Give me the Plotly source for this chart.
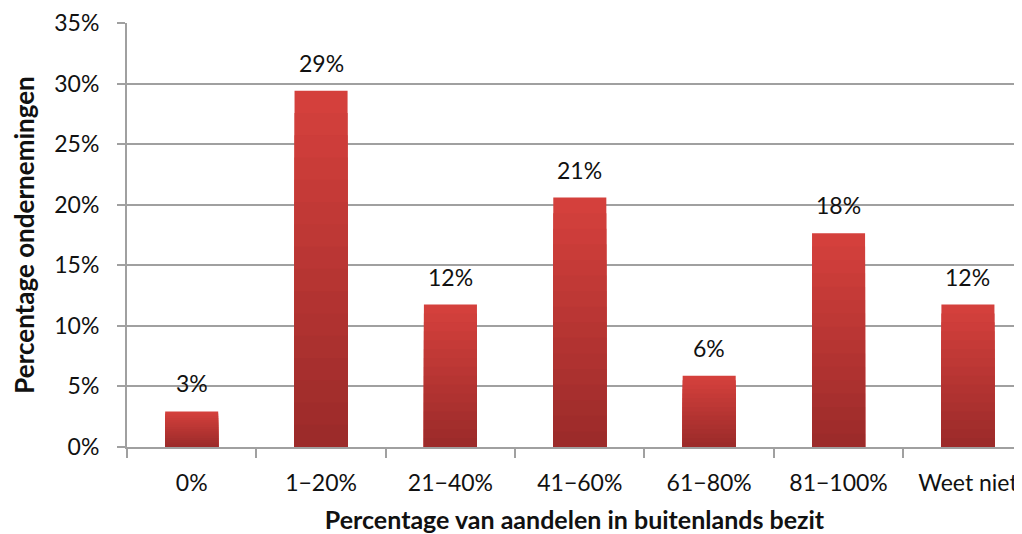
import plotly.graph_objects as go

categories = ["0%", "1\u221220%", "21\u221240%", "41\u221260%", "61\u221280%", "81\u2212100%", "Weet niet"]
values = [2.94, 29.41, 11.76, 20.59, 5.88, 17.65, 11.76]
labels = ["3%", "29%", "12%", "21%", "6%", "18%", "12%"]
y_ticks = [0, 5, 10, 15, 20, 25, 30, 35]
y_tick_labels = ["0%", "5%", "10%", "15%", "20%", "25%", "30%", "35%"]

FONT = "Lato"
TICK_SIZE = 23
top_rgb = (212, 64, 60)
bot_rgb = (156, 43, 42)
n_layers = 16

fig = go.Figure()
# gradient built by overlaying bars (light at top, darker toward bottom)
for k in range(n_layers):
    f = 1 - k / n_layers
    t = k / (n_layers - 1)
    c = tuple(round(top_rgb[i] + (bot_rgb[i] - top_rgb[i]) * t) for i in range(3))
    fig.add_trace(go.Bar(
        x=categories, y=[v * f for v in values], width=0.41,
        marker=dict(color="rgb(%d,%d,%d)" % c, line=dict(width=0)),
        hoverinfo="skip", showlegend=False,
    ))

for cat, v, lab in zip(categories, values, labels):
    fig.add_annotation(x=cat, y=v, text=lab, showarrow=False,
                       yanchor="bottom", yshift=12,
                       font=dict(family=FONT, size=TICK_SIZE, color="#111"))

fig.update_layout(
    width=1014, height=526,
    margin=dict(l=119, r=0, t=15, b=87),
    barmode="overlay",
    plot_bgcolor="white", paper_bgcolor="white",
    font=dict(family=FONT, size=TICK_SIZE, color="#111"),
)
fig.update_xaxes(
    type="category", range=[-0.5, 6.418], automargin=False,
    tickson="boundaries", ticks="outside", ticklen=9, tickwidth=2, tickcolor="#A0A0A0",
    showline=True, linecolor="#A0A0A0", linewidth=2,
    showgrid=False, ticklabelstandoff=14,
    tickfont=dict(family=FONT, size=TICK_SIZE, color="#111"),
    title=dict(text="<b>Percentage van aandelen in buitenlands bezit</b>",
               font=dict(family=FONT, size=25, color="#111"), standoff=19),
)
fig.update_yaxes(
    range=[0, 35], tickvals=y_ticks, ticktext=y_tick_labels, automargin=False,
    ticks="outside", ticklen=8, tickwidth=2, tickcolor="#A0A0A0",
    showline=True, linecolor="#A0A0A0", linewidth=2,
    showgrid=True, gridcolor="#A0A0A0", gridwidth=2,
    zeroline=False, ticklabelstandoff=13,
    tickfont=dict(family=FONT, size=TICK_SIZE, color="#111"),
    title=dict(text="<b>Percentage ondernemingen</b>",
               font=dict(family=FONT, size=26, color="#111"), standoff=20),
)

fig.write_html("out.html")
